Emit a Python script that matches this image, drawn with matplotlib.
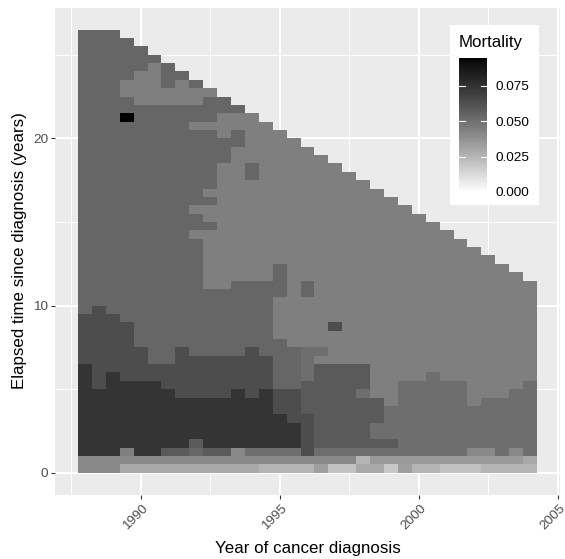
import numpy as np
import matplotlib
matplotlib.use("Agg")
import matplotlib.pyplot as plt
import matplotlib.transforms as mtransforms
from matplotlib.colors import ListedColormap
from matplotlib.patches import Rectangle

plt.rcParams['font.family'] = ['Liberation Sans', 'DejaVu Sans']

# half-year cohorts of diagnosis and half-year bands of elapsed time
years = np.arange(1988.0, 2004.01, 0.5)
elapsed = np.arange(0.25, 26.5, 0.5)

# mortality of each shade seen in the map
levels = {'K': 0.0944, 'B': 0.0738, 'C': 0.0636, 'D': 0.0583, 'E': 0.0537,
          'F': 0.0507, 'G': 0.0442, 'H': 0.0402, 'I': 0.0347, 'P': 0.0330,
          'J': 0.0294, 'N': 0.0252, 'L': 0.0204, 'M': 0.0183}

# one string per elapsed-time band, top (26.25 y) first; one char per cohort
rows = [
    "EEE",
    "EEEE",
    "EEEEE",
    "EEEEEE",
    "EEEEEGE",
    "EEEEGGEE",
    "EEEGGGEGE",
    "EEEGGGGGGG",
    "EEEEGGGGGEE",
    "EEEEEEEEEEEE",
    "EEEKEEEEEEGGG",
    "EEEEEEEEGGGGGG",
    "EEEEEEEEEEGEGGG",
    "EEEEEEEEEEEEGGGG",
    "EEEEEEEEEEEGGGGGG",
    "EEEEEEEEEEEGGGGGGG",
    "EEEEEEEEEEGGEGGGGGG",
    "EEEEEEEEEEGGEGGGGGGG",
    "EEEEEEEEEEGGGGGGGGGGG",
    "EEEEEEEEEGGGGGGGGGGGGG",
    "EEEEEEEEEEGGGGGGGGGGGGG",
    "EEEEEEEEGGGGGGGGGGGGGGGG",
    "EEEEEEEEEGGGGGGGGGGGGGGGG",
    "EEEEEEEEEEGGGGGGGGGGGGGGGG",
    "EEEEEEEEGGGGGGGGGGGGGGGGGGG",
    "EEEEEEEEEGGGGGGGGGGGGGGGGGGG",
    "EEEEEEEEEGGGGGGGGGGGGGGGGGGGG",
    "EEEEEEEEEGGGGGGGGGGGGGGGGGGGGG",
    "EEEEEEEEEGGGGGEGGGGGGGGGGGGGGGG",
    "EEEEEEEEEGGGGGEGGGGGGGGGGGGGGGGG",
    "EEEEEEEEEGGEEEEGEGGGGGGGGGGGGGGGG",
    "EEEEEEEEEEEEEEEGEGGGGGGGGGGGGGGGG",
    "EEEEEEEEEEEEEEGGGGGGGGGGGGGGGGGGG",
    "ECEEEEEEEEEEEEGGGGGGGGGGGGGGGGGGG",
    "CCCEEEEEEEEEEEGGGGGGGGGGGGGGGGGGG",
    "CCCCEEEEEEEEEEGGGGCGGGGGGGGGGGGGG",
    "CCCCEEEEEEEEEEGGGGGGGGGGGGGGGGGGG",
    "CCCCEEEEEEEEEEEGGGGGGGGGGGGGGGGGG",
    "CCCCCEECEEEECEEEFFGGGGGGGGGGGGGGG",
    "CCCCCEECCCCCCCEEFGGGGGGGGGGGGGGGG",
    "BCCCCCCCCCCCCCEEFDDDDGGGGGGGGGGGG",
    "BCBCCCCCCCCCCCEEFDDDDGGGGFGGGGGGG",
    "BCBBBBCCCCCCCCEEDDDDDGGFFFFFGGGGF",
    "BBBBBBBCCCCBCBCCDDDDFGGFFFFFGGGFF",
    "BBBBBBBBBBBBBBCCDDDDDDGFFFFFGFFFF",
    "BBBBBBBBBBBBBBCCDDDDDDFFFFFFFFFFF",
    "BBBBBBBBBBBBBBBCCDDDDDFFFFFFFFFFF",
    "BBBBBBBBBBBBBBBBCDDDDFFFFFFFFFFFF",
    "BBBBBBBBBBBBBBBBCDDDDFFFFFFFFFFFF",
    "BBBBBBBBDBBBBBBBCDDDDDDFFFFFFFFFF",
    "BBBGBBDDEDDHFFFFCFFFFFFFFFFFHHFHF",
    "HHHHHHHHHHHHHHHHHHHHNIIIIIIIIIIIJ",
    "HHHJJJJJJJJJJNNNNPLLJJMPNNLLLNNNN",
]

grid = np.array([[levels.get(c, np.nan) for c in r.ljust(len(years), '.')[:len(years)]]
                 for r in rows[::-1]])
grid = np.ma.masked_invalid(grid)


# white -> black gradient taken in Lab lightness, like ggplot's scale
def lab_grey(L):
    fy = (L + 16) / 116
    Y = np.where(fy > 6 / 29, fy ** 3, 3 * (6 / 29) ** 2 * (fy - 4 / 29))
    c = np.where(Y <= 0.0031308, 12.92 * Y, 1.055 * np.clip(Y, 0, 1) ** (1 / 2.4) - 0.055)
    return np.clip(c, 0, 1)


g = lab_grey(100 * (1 - np.linspace(0, 1, 256)))
cmap = ListedColormap(np.column_stack([g, g, g]))
vmax = levels['K']

W, H = 565, 559
fig = plt.figure(figsize=(W / 100, H / 100), dpi=100)
ax = fig.add_axes([55 / W, 1 - 495 / H, 505 / W, 487.5 / H])
ax.set_facecolor('#EBEBEB')

mesh = ax.pcolormesh(years, elapsed, grid, cmap=cmap, vmin=0, vmax=vmax,
                     shading='nearest', zorder=2)

ax.set_xlim(1986.925, 2005.075)
ax.set_ylim(-1.325, 27.825)
ax.set_xticks([1990, 1995, 2000, 2005])
ax.set_xticks([1987.5, 1992.5, 1997.5, 2002.5], minor=True)
ax.set_yticks([0, 10, 20])
ax.set_yticks([5, 15, 25], minor=True)
ax.grid(which='major', color='white', lw=1.5, zorder=1)
ax.grid(which='minor', color='white', lw=0.75, zorder=1)
ax.set_axisbelow(True)
for s in ax.spines.values():
    s.set_visible(False)
ax.tick_params(which='major', length=3, width=0.8, color='#333333',
               labelcolor='#4D4D4D', labelsize=9.7, pad=2)
ax.tick_params(which='minor', length=0)
shift = mtransforms.ScaledTranslation(-5 / 100, 0, fig.dpi_scale_trans)
for lab in ax.get_xticklabels():
    lab.set_rotation(45)
    lab.set_ha('center')
    lab.set_va('top')
    lab.set_transform(lab.get_transform() + shift)

fig.text(307.5 / W, 1 - 549 / H, 'Year of cancer diagnosis', fontsize=12.2,
         ha='center', va='center')
fig.text(20 / W, 1 - 251 / H, 'Elapsed time since diagnosis (years)', fontsize=12.2,
         ha='center', va='center', rotation=90)

# legend
box = Rectangle((450 / W, 1 - 205 / H), 89 / W, 180 / H, transform=fig.transFigure,
                facecolor='white', edgecolor='none', zorder=3)
fig.add_artist(box)
fig.text(459 / W, 1 - 43 / H, 'Mortality', fontsize=12.2, ha='left', va='center', zorder=4)
cax = fig.add_axes([459 / W, 1 - 192 / H, 28 / W, 134 / H])
cax.set_zorder(5)
cb = fig.colorbar(mesh, cax=cax)
cb.outline.set_visible(False)
ticks = [0.0, 0.025, 0.05, 0.075]
cb.set_ticks(ticks)
cb.set_ticklabels(['%.3f' % t for t in ticks])
cax.tick_params(length=0, labelsize=9.7, pad=6, labelcolor='black')
for t in ticks[1:]:
    cax.plot([0, 0.2], [t, t], color='white', lw=0.8)
    cax.plot([0.8, 1], [t, t], color='white', lw=0.8)

fig.savefig('out.png', dpi=100)
